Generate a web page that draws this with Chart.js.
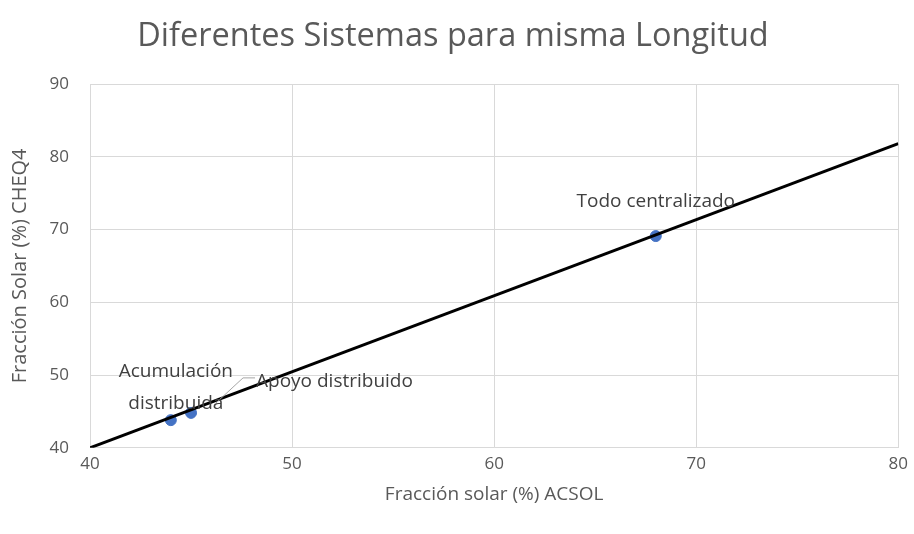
<!DOCTYPE html>
<html>
<head>
<meta charset="utf-8">
<script src="https://cdn.jsdelivr.net/npm/chart.js@4/dist/chart.umd.min.js"></script>
<style>
  html, body { margin: 0; padding: 0; background: #fff; }
  #wrap { width: 914px; height: 534px; }
</style>
</head>
<body>
<div id="wrap"><canvas id="grafico"></canvas></div>
<script>
// datos
var acsol = [44, 45, 68];
var cheq4 = [43.8, 44.8, 69.1];
var etiquetas = [['Acumulación', 'distribuida'], ['Apoyo distribuido'], ['Todo centralizado']];
var lineaX = [40, 80];
var lineaY = [40, 81.8];
var ticksX = [40, 50, 60, 70, 80];
var ticksY = [40, 50, 60, 70, 80, 90];

var puntos = acsol.map(function(v, i){ return {x: v, y: cheq4[i]}; });
var linea = lineaX.map(function(v, i){ return {x: v, y: lineaY[i]}; });

var fuente = '"Open Sans", "Noto Sans", sans-serif';

// posicion de cada etiqueta respecto a su punto (dx, dy, alineacion)
var posEtiq = [
  {dx: 5, dy: -49, align: 'center'},
  {dx: 65, dy: -31, align: 'left'},
  {dx: 0, dy: -34, align: 'center'}
];

var etiquetasPlugin = {
  id: 'etiquetas',
  afterDatasetsDraw: function(chart){
    var ctx = chart.ctx;
    var sx = chart.scales.x, sy = chart.scales.y;
    ctx.save();
    // linea guia de "Apoyo distribuido"
    var px = sx.getPixelForValue(acsol[1]), py = sy.getPixelForValue(cheq4[1]);
    ctx.strokeStyle = '#a6a6a6';
    ctx.lineWidth = 1;
    ctx.beginPath();
    ctx.moveTo(px + 25, py - 10);
    ctx.lineTo(px + 52, py - 35);
    ctx.lineTo(px + 64, py - 35);
    ctx.stroke();

    ctx.font = '19px ' + fuente;
    ctx.fillStyle = '#404040';
    ctx.textBaseline = 'middle';
    etiquetas.forEach(function(lineas, i){
      var x = sx.getPixelForValue(acsol[i]) + posEtiq[i].dx;
      var y = sy.getPixelForValue(cheq4[i]) + posEtiq[i].dy;
      ctx.textAlign = posEtiq[i].align;
      lineas.forEach(function(t, k){
        ctx.fillText(t, x, y + k * 32);
      });
    });
    ctx.restore();
  }
};

var ctx = document.getElementById('grafico');
new Chart(ctx, {
  type: 'scatter',
  data: {
    datasets: [{
      label: 'Tendencia',
      type: 'line',
      data: linea,
      borderColor: '#000000',
      borderWidth: 3,
      pointRadius: 0,
      fill: false,
      order: 0
    },{
      label: 'Sistemas',
      data: puntos,
      backgroundColor: '#4472c4',
      borderColor: '#4472c4',
      pointRadius: 5.5,
      order: 1
    }]
  },
  options: {
    responsive: true,
    maintainAspectRatio: false,
    animation: false,
    layout: { padding: { left: 0, right: 8, top: 0, bottom: 28 } },
    plugins: {
      legend: { display: false },
      tooltip: { enabled: false },
      title: {
        display: true,
        text: 'Diferentes Sistemas para misma Longitud',
        color: '#595959',
        font: { family: fuente, size: 32.5, weight: 'normal' },
        padding: { top: 17, bottom: 28 }
      }
    },
    scales: {
      x: {
        type: 'linear',
        min: 40, max: 80,
        afterBuildTicks: function(s){ s.ticks = ticksX.map(function(v){ return {value: v}; }); },
        grid: { color: '#d9d9d9', drawTicks: false },
        border: { color: '#d9d9d9' },
        ticks: { color: '#595959', padding: 6, font: { family: fuente, size: 17 } },
        title: {
          display: true,
          text: 'Fracción solar (%) ACSOL',
          color: '#595959',
          font: { family: fuente, size: 19 },
          padding: { top: 3, bottom: 0 }
        }
      },
      y: {
        type: 'linear',
        min: 40, max: 90,
        afterBuildTicks: function(s){ s.ticks = ticksY.map(function(v){ return {value: v}; }); },
        afterFit: function(s){ s.width = 90; },
        grid: { color: '#d9d9d9', drawTicks: false },
        border: { color: '#d9d9d9' },
        ticks: { color: '#595959', padding: 21, font: { family: fuente, size: 17 } },
        title: {
          display: true,
          text: 'Fracción Solar (%) CHEQ4',
          color: '#595959',
          font: { family: fuente, size: 20 },
          padding: { top: 8, bottom: 4 }
        }
      }
    }
  },
  plugins: [etiquetasPlugin]
});
</script>
</body>
</html>
